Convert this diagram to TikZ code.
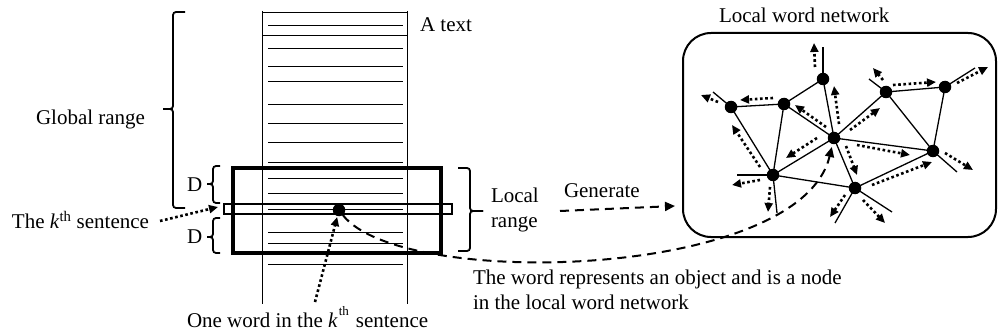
\documentclass[tikz,border=0pt]{standalone}
\usepackage{fontspec}
\setmainfont{Liberation Serif}
\usetikzlibrary{arrows.meta}
\newcommand\mybrc[6]{%
  \draw[bracestyle] (#1,#4) -- (#2,#4) -- (#2,#5) -- (#3,#5);
  \draw[bracestyle] (#3,#5) -- (#2,#5) -- (#2,#6) -- (#1,#6);}
\begin{document}
\begin{tikzpicture}[x=1pt,y=-1pt,
  every node/.style={inner sep=0pt, outer sep=0pt, font=\fontsize{21}{25}\selectfont},
  pageline/.style={line width=0.9pt},
  bracestyle/.style={line width=1.8pt, rounded corners=3pt},
  dotarrow/.style={line width=2.6pt, dash pattern=on 2.6pt off 2.6pt, -{Triangle[length=9pt,width=8pt]}},
  dasharrow/.style={line width=2pt, dash pattern=on 9pt off 6pt, -{Triangle[length=10pt,width=9pt]}},
  netedge/.style={line width=1.3pt},
  netnode/.style={circle, fill=black, minimum size=12.5pt},
]
\useasboundingbox (0,0) rectangle (999,334);

% ---- the text page ----
\draw[pageline] (262,11) -- (262,304);
\draw[pageline] (407,11) -- (407,304);
\draw[pageline] (262,12) -- (407,12);
\draw[pageline] (262,35) -- (407,35);
\foreach \yy in {25,48,66,81,104,123,142,162,178,193,209,232,243,264}
  \draw[pageline] (268,\yy) -- (403,\yy);

\node[draw, line width=3.3pt, minimum width=208pt, minimum height=85pt] (lrbox) at (337,210.5) {};
\node[draw, line width=1.5pt, minimum width=228pt, minimum height=10pt] (sentbox) at (338,209) {};
\node[netnode] (word) at (339,210) {};

% ---- braces ----
\mybrc{185}{173}{163}{12}{109}{208}
\mybrc{220}{213}{207}{166}{184}{203}
\mybrc{220}{213}{207}{218}{237}{253}
\mybrc{458}{470}{483}{168}{211}{251}

% ---- texts ----
\node[anchor=west] (atext) at (420,25) {A text};
\node[anchor=west] (global) at (36,119) {Global range};
\node[anchor=west] (d1) at (187,185) {D};
\node[anchor=west] (d2) at (187,237) {D};
\node[anchor=west] (ktext) at (12,220) {The \textit{k}\textsuperscript{th} sentence};
\node[anchor=west, align=left] (local) at (491,210) {Local\\range};
\node[anchor=west] (gen) at (564,191) {Generate};
\node[anchor=west] (title) at (719,15) {Local word network};
\node[anchor=west, align=left] (wordtext) at (473,289.5) {The word represents an object and is a node\\in the local word network};
\node[anchor=west] (oneword) at (187,317) {One word in the \textit{k}\hspace{1pt}\raisebox{12pt}{\fontsize{13}{13}\selectfont th}\hspace{7pt}sentence};

% ---- left arrows ----
\coordinate (ks) at (160,221);
\draw[dotarrow] (ks) -- ([xshift=-6pt,yshift=2pt]sentbox.west);
\coordinate (ow) at (315,302);
\draw[dotarrow, shorten >=1pt] (ow) -- (word);

% ---- network box ----
\draw[line width=2pt, rounded corners=28pt] (683,33) rectangle (996,237);
\node[netnode] (n1) at (823,79) {};
\node[netnode] (n2) at (784,104) {};
\node[netnode] (n3) at (731,107) {};
\node[netnode] (n4) at (886,92) {};
\node[netnode] (n5) at (945,87) {};
\node[netnode] (n6) at (834,138) {};
\node[netnode] (n7) at (933,151) {};
\node[netnode] (n8) at (773,175) {};
\node[netnode] (n9) at (855,188) {};
\foreach \a/\b in {n1/n2,n2/n3,n1/n6,n2/n6,n2/n8,n3/n8,n8/n6,n8/n9,n6/n9,n6/n4,n6/n7,n4/n5,n4/n7,n5/n7,n9/n7}
  \draw[netedge] (\a.center) -- (\b.center);
\foreach \a/\px/\py in {n1/823/47,n3/713/92,n4/869/79,n5/975/68,n7/957/172,n8/737/175,n8/777/213,n9/835/223,n9/892/212}
  \draw[netedge] (\a.center) -- (\px,\py);
\foreach \ax/\ay/\bx/\by in {815/67/814/43, 773/98/740/100, 718/102/701/95, 826/127/795/105,
  839/124/834/86, 760/167/732/125, 817/138/786/158, 893/85/936/82, 883/80/873/68,
  957/83/988/67, 850/130/880/108, 857/145/910/155, 846/146/857/175, 872/185/932/162,
  945/153/973/170, 863/200/885/223, 845/195/830/217, 760/180/732/185, 770/187/768/212}
  \draw[dotarrow] (\ax,\ay) -- (\bx,\by);

% ---- dashed connectors ----
\coordinate (gs) at (560,211);
\coordinate (ge) at (675,206);
\draw[dasharrow] (gs) -- (ge);
\draw[dasharrow, shorten >=3pt] (word) .. controls (400,290) and (800,280) .. (n6);
\end{tikzpicture}
\end{document}
